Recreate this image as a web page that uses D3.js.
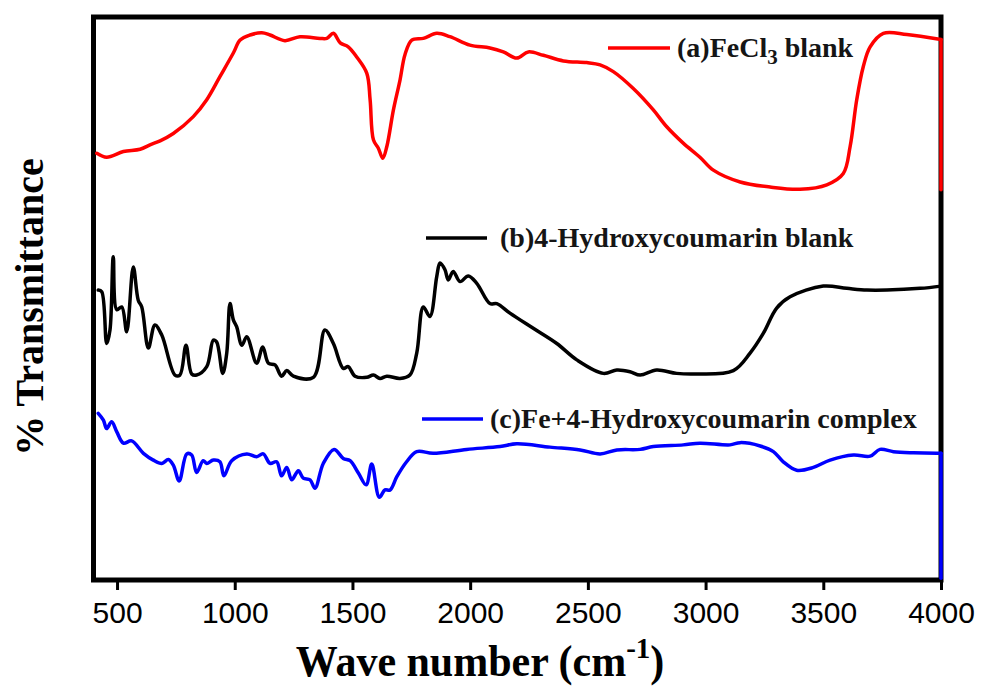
<!DOCTYPE html>
<html>
<head>
<meta charset="utf-8">
<script src="https://cdn.jsdelivr.net/npm/d3@7"></script>
<style>
  html, body { margin: 0; padding: 0; background: #fff; }
  svg { display: block; }
</style>
</head>
<body>
<svg id="chart" width="981" height="688"></svg>
<script>
// FT-IR spectra: [wavenumber (cm^-1), relative % transmittance]
const fecl3Blank = [
  [414, 75.8], [456, 75.1], [527, 76.1], [598, 76.5], [640, 77.3], [683, 78.0],
  [739, 79.3], [824, 82.3], [881, 85.3], [937, 89.4], [994, 93.6], [1023, 95.9],
  [1065, 96.8], [1115, 97.2], [1150, 96.8], [1213, 95.8], [1277, 96.5], [1362, 96.2],
  [1391, 96.2], [1419, 97.1], [1448, 95.4], [1482, 94.7], [1518, 92.9], [1561, 90.0],
  [1575, 85.3], [1589, 78.2], [1610, 76.7], [1629, 74.9], [1646, 77.0], [1674, 83.5],
  [1702, 88.8], [1723, 93.3], [1752, 95.9], [1801, 96.2], [1858, 97.1], [1914, 96.5],
  [1999, 95.0], [2084, 94.5], [2141, 93.8], [2198, 92.7], [2247, 93.8], [2311, 93.2],
  [2396, 92.2], [2495, 91.9], [2552, 91.5], [2608, 90.3], [2693, 87.3], [2778, 83.5],
  [2835, 80.5], [2905, 77.6], [2976, 75.1], [3033, 72.8], [3147, 70.7], [3274, 69.8],
  [3401, 69.4], [3515, 70.2], [3585, 72.2], [3614, 77.0], [3642, 85.3], [3670, 91.2],
  [3699, 94.7], [3755, 97.1], [3855, 96.9], [4000, 96.0], [4000, 69.3]
];

const hydroxycoumarinBlank = [
  [420, 51.5], [435, 51.2], [456, 42.0], [470, 44.4], [484, 57.4], [499, 48.0],
  [520, 48.5], [541, 44.1], [569, 55.6], [590, 49.7], [605, 48.5], [633, 41.2],
  [661, 45.3], [690, 43.5], [746, 36.4], [767, 36.4], [793, 41.7], [817, 36.6],
  [838, 36.4], [881, 37.9], [909, 42.6], [923, 42.3], [949, 36.7], [966, 40.3],
  [980, 49.1], [994, 46.2], [1008, 45.0], [1030, 41.7], [1051, 43.2], [1093, 38.5],
  [1119, 41.4], [1143, 38.5], [1171, 38.2], [1199, 36.2], [1221, 37.2], [1249, 36.2],
  [1334, 36.0], [1383, 44.4], [1419, 42.0], [1461, 37.6], [1482, 37.9], [1511, 36.2],
  [1561, 36.0], [1589, 36.4], [1617, 35.8], [1646, 36.2], [1702, 35.8], [1744, 36.4],
  [1773, 40.3], [1801, 48.5], [1829, 46.8], [1858, 53.9], [1872, 56.3], [1893, 55.1],
  [1907, 53.3], [1928, 54.8], [1957, 53.0], [1992, 54.0], [2028, 52.7], [2084, 49.1],
  [2113, 49.1], [2169, 47.4], [2268, 44.7], [2368, 42.0], [2453, 39.1], [2566, 36.7],
  [2623, 37.3], [2679, 37.0], [2722, 36.4], [2792, 37.3], [2877, 36.7], [2962, 36.6],
  [3118, 37.2], [3189, 40.3], [3245, 43.8], [3302, 48.3], [3359, 50.3], [3500, 52.2],
  [3600, 51.8], [3685, 51.5], [3770, 51.5], [3911, 51.8], [4000, 52.2]
];

const feComplex = [
  [420, 29.6], [442, 28.4], [456, 26.9], [477, 28.1], [499, 26.3], [527, 24.3],
  [562, 24.7], [612, 22.5], [654, 21.3], [690, 20.7], [718, 21.4], [739, 20.4],
  [764, 17.6], [796, 22.4], [817, 22.2], [838, 19.1], [866, 21.2], [881, 20.7],
  [909, 21.3], [937, 21.0], [954, 18.5], [987, 21.2], [1051, 22.4], [1093, 21.9],
  [1121, 22.4], [1150, 20.7], [1178, 21.0], [1199, 18.5], [1221, 20.0], [1242, 17.8],
  [1270, 19.4], [1291, 18.1], [1320, 17.8], [1341, 16.3], [1376, 20.7], [1422, 23.2],
  [1461, 21.6], [1490, 21.2], [1525, 19.0], [1558, 16.9], [1582, 20.6], [1614, 14.7],
  [1638, 16.0], [1660, 16.0], [1688, 18.3], [1730, 21.0], [1773, 22.8], [1843, 22.5],
  [1985, 23.2], [2127, 23.7], [2198, 24.2], [2339, 23.6], [2467, 23.1], [2552, 22.4],
  [2623, 23.1], [2722, 23.2], [2778, 23.7], [2905, 24.0], [2976, 24.3], [3104, 24.0],
  [3147, 24.4], [3232, 23.8], [3288, 22.8], [3330, 21.0], [3387, 19.5], [3458, 20.0],
  [3529, 21.3], [3628, 22.2], [3699, 22.0], [3741, 23.2], [3798, 22.8], [3883, 22.6],
  [3982, 22.5], [4000, 22.5], [4000, 0.3]
];

const seriesNames = ["(a)FeCl", "(b)4-Hydroxycoumarin blank", "(c)Fe+4-Hydroxycoumarin complex"];
const seriesColors = ["#ff0000", "#000000", "#0000ff"];
const xTickValues = [500, 1000, 1500, 2000, 2500, 3000, 3500, 4000];
const xDomain = [400, 4000];
const yDomain = [0, 100];

const svg = d3.select("#chart");
const plot = { left: 93.5, right: 941, top: 17, bottom: 580 };

const x = d3.scaleLinear().domain(xDomain).range([plot.left, plot.right]);
const y = d3.scaleLinear().domain(yDomain).range([plot.bottom, plot.top]);

const serif = "'Liberation Serif', 'Times New Roman', Times, serif";
const sans = "'Liberation Sans', Arial, Helvetica, sans-serif";

// x axis with ticks pointing outward
const xAxis = svg.append("g")
  .attr("transform", `translate(0,${plot.bottom})`)
  .call(d3.axisBottom(x).tickValues(xTickValues).tickSize(10).tickSizeOuter(0).tickFormat(d3.format("d")));
xAxis.select(".domain").remove();
xAxis.selectAll(".tick line").attr("stroke", "#000").attr("stroke-width", 3);
xAxis.selectAll(".tick text")
  .attr("y", 43).attr("dy", null)
  .attr("fill", "#000")
  .style("font-family", sans)
  .style("font-size", "30px");

// plot frame
svg.append("rect")
  .attr("x", plot.left).attr("y", plot.top)
  .attr("width", plot.right - plot.left).attr("height", plot.bottom - plot.top)
  .attr("fill", "none").attr("stroke", "#000").attr("stroke-width", 5);

// spectra: smooth trace, with a straight segment where the recording drops at the edge
const smooth = d3.line()
  .x(d => x(d[0]))
  .y(d => y(d[1]))
  .curve(d3.curveCatmullRom.alpha(0.5));
const straight = d3.line()
  .x(d => x(d[0]))
  .y(d => y(d[1]));

[fecl3Blank, hydroxycoumarinBlank, feComplex].forEach((s, i) => {
  const n = s.length;
  const hasDrop = n > 1 && s[n - 1][0] === s[n - 2][0];
  const body = hasDrop ? s.slice(0, n - 1) : s;
  const g = svg.append("g")
    .attr("fill", "none")
    .attr("stroke", seriesColors[i])
    .attr("stroke-width", 3.5)
    .attr("stroke-linejoin", "round")
    .attr("stroke-linecap", "round");
  g.append("path").datum(body).attr("d", smooth);
  if (hasDrop) g.append("path").datum(s.slice(n - 2)).attr("d", straight);
});

// legend entries placed next to each trace
const legendPos = [
  { x1: 608, x2: 670, ly: 48, tx: 677, ty: 57 },
  { x1: 426, x2: 487, ly: 238, tx: 500, ty: 247 },
  { x1: 422, x2: 483, ly: 419, tx: 490, ty: 428 }
];
legendPos.forEach((p, i) => {
  svg.append("line")
    .attr("x1", p.x1).attr("x2", p.x2).attr("y1", p.ly).attr("y2", p.ly)
    .attr("stroke", seriesColors[i]).attr("stroke-width", 3.5);
  const t = svg.append("text")
    .attr("x", p.tx).attr("y", p.ty)
    .style("font-family", serif).style("font-weight", "bold").style("font-size", "28px")
    .attr("fill", "#151515");
  t.append("tspan").text(seriesNames[i]);
  if (i === 0) {
    t.append("tspan").attr("dy", 7).style("font-size", "21px").text("3");
    t.append("tspan").attr("dy", -7).text(" blank");
  }
});

// axis titles
const xTitle = svg.append("text")
  .attr("transform", "translate(480,676) scale(1,1.05)")
  .attr("text-anchor", "middle")
  .style("font-family", serif).style("font-weight", "bold").style("font-size", "42px")
  .attr("fill", "#000");
xTitle.append("tspan").text("Wave number (cm");
xTitle.append("tspan").attr("dy", -17).style("font-size", "29px").text("-1");
xTitle.append("tspan").attr("dy", 17).text(")");

svg.append("text")
  .attr("transform", "translate(43,307) rotate(-90)")
  .attr("text-anchor", "middle")
  .style("font-family", serif).style("font-weight", "bold").style("font-size", "40px")
  .attr("fill", "#000")
  .text("% Transmittance");
</script>
</body>
</html>
